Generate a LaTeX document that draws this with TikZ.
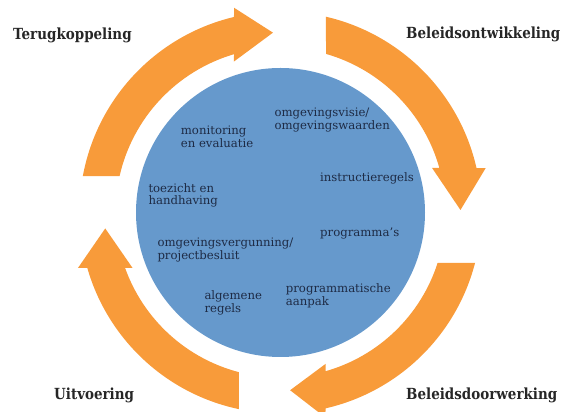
\documentclass[tikz,border=0pt]{standalone}
\usepackage{fontspec}
\setmainfont{DejaVu Serif}
\newfontfamily\labelfont[FakeStretch=0.88]{DejaVu Serif}
\definecolor{arroworange}{HTML}{F89B3A}
\definecolor{discblue}{HTML}{6699CC}
\definecolor{textnavy}{HTML}{1E2B45}
\tikzset{
  phase/.style={anchor=west, inner sep=0pt, text=black!85,
    font=\labelfont\bfseries\fontsize{15.3}{17}\selectfont},
  instrument/.style={anchor=west, align=left, inner sep=0pt, text=textnavy,
    font=\fontsize{11.7}{12.7}\selectfont},
  ringarrow/.style={fill=arroworange}
}
\begin{document}
\begin{tikzpicture}[x=1pt,y=1pt]
\useasboundingbox (0,0) rectangle (563,412);

% disc
\fill[discblue] (280.5,199.5) circle (144.5);

% ring of arrows, clockwise
\begin{scope}[shift={(280.5,199.5)}]
\fill[ringarrow] (167.22:165) -- (169.54:201) arc[start angle=169.54, end angle=103.38, radius=201]
  -- (102.79:210) -- (92.4:180) -- (107.12:158) -- (106.37:165)
  arc[start angle=106.37, end angle=167.22, radius=165] -- cycle;
\fill[ringarrow] (73.99:165) -- (76.92:201) arc[start angle=76.92, end angle=12.79, radius=201]
  -- (12.23:210) -- (0.8:180) -- (16.36:158) -- (15.65:165)
  arc[start angle=15.65, end angle=73.99, radius=165] -- cycle;
\fill[ringarrow] (-17.82:165) -- (-14.55:201) arc[start angle=-14.55, end angle=-77.06, radius=201]
  -- (-77.63:210) -- (-86.9:178) -- (-73.45:158) -- (-74.17:165)
  arc[start angle=-74.17, end angle=-17.82, radius=165] -- cycle;
\fill[ringarrow] (-104.57:165) -- (-101.92:201) arc[start angle=-101.92, end angle=-163.97, radius=201]
  -- (-164.68:210) -- (-174.8:176) -- (-159.44:158) -- (-160.35:165)
  arc[start angle=-160.35, end angle=-104.57, radius=165] -- cycle;
\end{scope}

% phases
\node[phase] (feedback) at (13,376.5) {Terugkoppeling};
\node[phase] (development) at (406,378) {Beleidsontwikkeling};
\node[phase] (execution) at (54,17) {Uitvoering};
\node[phase] (impact) at (406,17) {Beleidsdoorwerking};

% instruments
\node[instrument] (vision) at (274.3,291.7) {omgevingsvisie/\\omgevingswaarden};
\node[instrument] (monitoring) at (180.7,275) {monitoring\\en evaluatie};
\node[instrument] (instruction) at (320,233.7) {instructieregels};
\node[instrument] (enforcement) at (148.3,216.7) {toezicht en\\handhaving};
\node[instrument] (programmes) at (320,178.7) {programma's};
\node[instrument] (permit) at (157.3,161.7) {omgevingsvergunning/\\projectbesluit};
\node[instrument] (approach) at (285.7,116.2) {programmatische\\aanpak};
\node[instrument] (rules) at (204.3,109.3) {algemene\\regels};
\end{tikzpicture}
\end{document}
